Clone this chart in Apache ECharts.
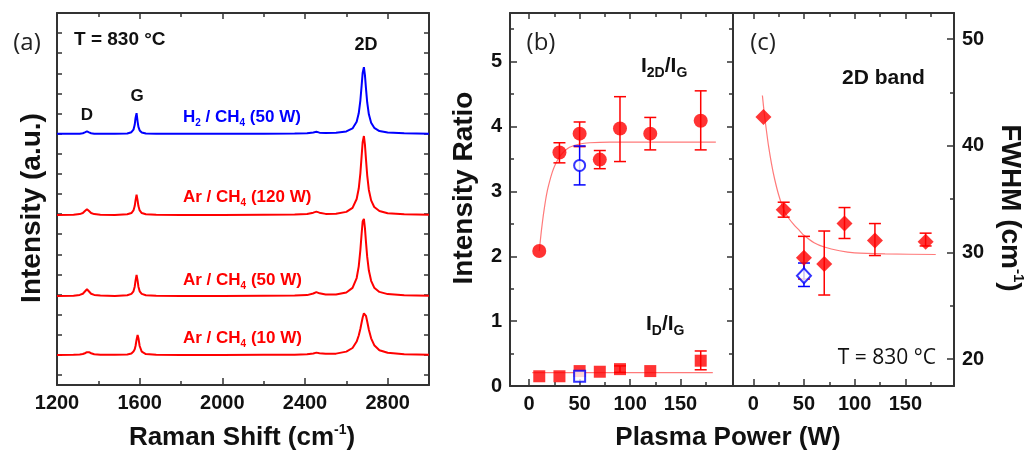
<!DOCTYPE html>
<html>
<head>
<meta charset="utf-8">
<script src="https://cdn.jsdelivr.net/npm/echarts@6/dist/echarts.min.js"></script>
<style>
html, body { margin: 0; padding: 0; background: #fff; }
#chart { width: 1031px; height: 456px; }
</style>
</head>
<body>
<div id="chart"></div>
<script>
// (a) Raman spectra, intensity in arbitrary (offset) units
const ramanShift = [1200, 1280, 1310, 1325, 1335, 1345, 1355, 1365, 1380, 1410, 1480, 1540, 1560, 1570, 1576, 1580, 1585, 1590, 1594, 1600, 1610, 1630, 1680, 1800, 2000, 2200, 2350, 2410, 2440, 2455, 2470, 2500, 2550, 2600, 2630, 2650, 2660, 2668, 2674, 2679, 2685, 2690, 2695, 2701, 2709, 2720, 2735, 2760, 2800, 2880, 3000];
const specH2_50 = [12.49, 12.50, 12.50, 12.52, 12.56, 12.61, 12.56, 12.52, 12.50, 12.49, 12.49, 12.51, 12.57, 12.70, 12.94, 13.28, 13.52, 13.10, 12.84, 12.66, 12.56, 12.51, 12.49, 12.49, 12.49, 12.50, 12.51, 12.52, 12.56, 12.59, 12.55, 12.53, 12.54, 12.61, 12.76, 13.09, 13.51, 14.16, 14.89, 15.52, 15.81, 15.41, 14.75, 14.05, 13.46, 13.04, 12.79, 12.63, 12.56, 12.52, 12.50];
const specAr_120 = [8.46, 8.47, 8.50, 8.55, 8.65, 8.74, 8.65, 8.55, 8.50, 8.47, 8.46, 8.49, 8.55, 8.68, 8.90, 9.18, 9.46, 9.18, 8.90, 8.68, 8.55, 8.49, 8.47, 8.46, 8.46, 8.47, 8.48, 8.50, 8.57, 8.62, 8.57, 8.51, 8.52, 8.61, 8.81, 9.25, 9.77, 10.54, 11.38, 12.08, 12.38, 11.95, 11.23, 10.43, 9.70, 9.18, 8.85, 8.65, 8.54, 8.49, 8.47];
const specAr_50 = [4.43, 4.44, 4.48, 4.54, 4.65, 4.76, 4.65, 4.54, 4.48, 4.45, 4.43, 4.46, 4.53, 4.66, 4.89, 5.19, 5.48, 5.19, 4.89, 4.66, 4.53, 4.46, 4.44, 4.43, 4.43, 4.44, 4.45, 4.47, 4.55, 4.62, 4.56, 4.50, 4.50, 4.60, 4.83, 5.32, 5.90, 6.72, 7.53, 8.13, 8.26, 7.80, 7.12, 6.37, 5.69, 5.18, 4.84, 4.63, 4.52, 4.46, 4.44];
const specAr_10 = [1.49, 1.50, 1.52, 1.54, 1.58, 1.63, 1.63, 1.58, 1.53, 1.50, 1.50, 1.52, 1.57, 1.66, 1.78, 1.94, 2.25, 2.49, 2.33, 1.94, 1.66, 1.54, 1.50, 1.49, 1.49, 1.50, 1.51, 1.53, 1.57, 1.61, 1.58, 1.55, 1.56, 1.66, 1.84, 2.16, 2.46, 2.80, 3.11, 3.36, 3.56, 3.57, 3.44, 3.16, 2.75, 2.32, 1.98, 1.73, 1.60, 1.53, 1.50];

// (b) intensity ratios vs plasma power (Ar/CH4)
const power = [10, 30, 50, 70, 90, 120, 170];
const ratio2DG = [2.08, 3.60, 3.89, 3.49, 3.97, 3.89, 4.09];
const ratio2DGLow = [null, 3.44, 3.69, 3.35, 3.46, 3.64, 3.64];
const ratio2DGHigh = [null, 3.75, 4.07, 3.63, 4.46, 4.14, 4.55];
const ratioDG = [0.15, 0.15, 0.23, 0.22, 0.26, 0.23, 0.39];
const ratioDGLow = [null, null, null, null, 0.21, null, 0.25];
const ratioDGHigh = [null, null, null, null, 0.31, null, 0.54];
// H2/CH4 sample (open symbols)
const h2Power = [50];
const h2Ratio2DG = [3.40];
const h2Ratio2DGLow = [3.10];
const h2Ratio2DGHigh = [3.70];
const h2RatioDG = [0.15];
// fitted curves
const fit2DG = [[10, 2.08], [12, 2.38], [14, 2.63], [16, 2.84], [18, 3.01], [20, 3.14], [23, 3.30], [26, 3.42], [30, 3.53], [35, 3.62], [40, 3.68], [50, 3.73], [60, 3.75], [80, 3.76], [185, 3.76]];
const fitDG = [[3, 0.205], [182, 0.205]];

// (c) 2D band FWHM
const fwhm = [42.7, 34.0, 29.5, 28.9, 32.7, 31.1, 31.0];
const fwhmLow = [null, 33.3, 27.5, 26.0, 31.3, 29.7, 30.6];
const fwhmHigh = [null, 34.7, 31.5, 32.0, 34.2, 32.7, 31.8];
const h2Fwhm = [27.8];
const h2FwhmLow = [26.8];
const h2FwhmHigh = [29.0];
const fitFwhm = [[9, 44.7], [11, 42.9], [13, 41.4], [15, 40.0], [18, 38.3], [21, 36.9], [25, 35.4], [30, 34.0], [35, 33.2], [40, 32.6], [45, 32.1], [50, 31.6], [60, 30.9], [70, 30.5], [85, 30.15], [100, 29.95], [130, 29.85], [180, 29.8]];

// tick values
const ramanMajor = [1200, 1600, 2000, 2400, 2800];
const ramanMinor = [1400, 1800, 2200, 2600];
const intensityTicks = [0.5, 1.5, 2.5, 3.5, 4.5, 5.5, 6.5, 7.5, 8.5, 9.5, 10.5, 11.5, 12.5, 13.5, 14.5, 15.5, 16.5, 17.5];
const powerMajor = [0, 50, 100, 150];
const powerMinor = [25, 75, 125, 175];
const ratioMajor = [0, 1, 2, 3, 4, 5];
const ratioMinor = [0.5, 1.5, 2.5, 3.5, 4.5, 5.5];
const fwhmMajor = [20, 30, 40, 50];
const fwhmMinor = [25, 35, 45];

const FONT = '"Liberation Sans", Arial, sans-serif';
const THIN = '"Open Sans", "Noto Sans", sans-serif';
const AX = '#333';
const RED = '#ff0000';
const BLUE = '#0000ff';
const FIT = '#ff7a7a';

function axis(grid, pos, min, max, ticks, len, line, labels) {
    return {
        type: 'value', gridIndex: grid, position: pos, min: min, max: max,
        splitLine: {show: false},
        axisLine: {show: line, onZero: false, lineStyle: {color: AX, width: 2}},
        axisTick: {show: ticks.length > 0, inside: true, length: len, customValues: ticks, lineStyle: {color: AX, width: 1.5}},
        axisLabel: labels ? {
            show: true, customValues: labels, margin: 8, color: '#111',
            fontFamily: FONT, fontWeight: 'bold', fontSize: 20,
            formatter: function (v) { return String(v); }
        } : {show: false}
    };
}

function pairs(xs, ys) {
    return xs.map((x, i) => [x, ys[i]]);
}

function errData(xs, lo, hi) {
    const out = [];
    xs.forEach((x, i) => {
        if (lo[i] != null) out.push([x, lo[i], hi[i]]);
    });
    return out;
}

function errorBars(xi, yi, data, color) {
    return {
        type: 'custom', xAxisIndex: xi, yAxisIndex: yi, z: 3,
        data: data,
        renderItem: function (params, api) {
            const top = api.coord([api.value(0), api.value(2)]);
            const bot = api.coord([api.value(0), api.value(1)]);
            const w = 6;
            const style = {stroke: color, lineWidth: 1.5};
            return {type: 'group', children: [
                {type: 'line', shape: {x1: top[0], y1: top[1], x2: bot[0], y2: bot[1]}, style: style},
                {type: 'line', shape: {x1: top[0] - w, y1: top[1], x2: top[0] + w, y2: top[1]}, style: style},
                {type: 'line', shape: {x1: bot[0] - w, y1: bot[1], x2: bot[0] + w, y2: bot[1]}, style: style}
            ]};
        }
    };
}

function spectrum(vals, color) {
    return {
        type: 'line', xAxisIndex: 0, yAxisIndex: 0,
        data: pairs(ramanShift, vals), showSymbol: false,
        lineStyle: {color: color, width: 2}, itemStyle: {color: color}
    };
}

function fitLine(xi, yi, data) {
    return {
        type: 'line', xAxisIndex: xi, yAxisIndex: yi, data: data, z: 1,
        showSymbol: false, smooth: 0.2,
        lineStyle: {color: FIT, width: 1.2}
    };
}

function dots(xi, yi, data, symbol, size, filled, color) {
    return {
        type: 'scatter', xAxisIndex: xi, yAxisIndex: yi, data: data, z: 4,
        symbol: symbol, symbolSize: size,
        itemStyle: filled ? {color: color} : {color: '#fff', borderColor: color, borderWidth: 2}
    };
}

// rich text styles for graphic labels
function tok(size, color, weight, family, extra) {
    return Object.assign({fontSize: size, fill: color, fontWeight: weight || 'bold', fontFamily: family || FONT}, extra || {});
}

function text(x, y, str, rich, opts) {
    opts = opts || {};
    return {
        type: 'text', x: x, y: y, rotation: opts.rotation || 0, z: 10,
        style: {
            text: str, rich: rich,
            align: opts.align || 'center', textAlign: opts.align || 'center',
            verticalAlign: 'middle', textVerticalAlign: 'middle'
        }
    };
}

function subRich(size, subSize, color, drop) {
    return {
        m: tok(size, color, 'bold', FONT, {lineHeight: size + 2}),
        s: tok(subSize, color, 'bold', FONT, {lineHeight: subSize, padding: [drop, 0, 0, 0]})
    };
}

function supRich(size, supSize, color) {
    return {
        m: tok(size, color, 'bold', FONT, {lineHeight: size + 4}),
        u: tok(supSize, color, 'bold', FONT, {lineHeight: supSize, padding: [0, 0, size - 10, 0], verticalAlign: 'top'})
    };
}

const chartDom = document.getElementById('chart');
const myChart = echarts.init(chartDom);

const option = {
    animation: false,
    backgroundColor: '#fff',
    grid: [
        {left: 57, top: 13, width: 372, height: 372},
        {left: 510, top: 13, width: 223, height: 373},
        {left: 733, top: 13, width: 221, height: 373}
    ],
    xAxis: [
        axis(0, 'bottom', 1200, 3000, ramanMajor, 7, true, ramanMajor),
        axis(0, 'top', 1200, 3000, ramanMajor, 6, true, null),
        axis(0, 'bottom', 1200, 3000, ramanMinor, 4, false, null),
        axis(0, 'top', 1200, 3000, ramanMinor, 4, false, null),
        axis(1, 'bottom', -19, 202, powerMajor, 7, true, powerMajor),
        axis(1, 'top', -19, 202, powerMajor, 6, true, null),
        axis(1, 'bottom', -19, 202, powerMinor, 4, false, null),
        axis(1, 'top', -19, 202, powerMinor, 4, false, null),
        axis(2, 'bottom', -20, 198, powerMajor, 7, true, powerMajor),
        axis(2, 'top', -20, 198, powerMajor, 6, true, null),
        axis(2, 'bottom', -20, 198, powerMinor, 4, false, null),
        axis(2, 'top', -20, 198, powerMinor, 4, false, null)
    ],
    yAxis: [
        axis(0, 'left', 0, 18.5, intensityTicks, 5, true, null),
        axis(0, 'right', 0, 18.5, intensityTicks, 5, true, null),
        axis(1, 'left', 0, 5.75, ratioMajor, 7, true, ratioMajor),
        axis(1, 'right', 0, 5.75, ratioMajor, 6, true, null),
        axis(1, 'left', 0, 5.75, ratioMinor, 4, false, null),
        axis(1, 'right', 0, 5.75, ratioMinor, 4, false, null),
        axis(2, 'right', 17.47, 52.44, fwhmMajor, 7, true, fwhmMajor),
        axis(2, 'left', 17.47, 52.44, [], 0, true, null),
        axis(2, 'right', 17.47, 52.44, fwhmMinor, 4, false, null)
    ],
    series: [
        spectrum(specH2_50, BLUE),
        spectrum(specAr_120, RED),
        spectrum(specAr_50, RED),
        spectrum(specAr_10, RED),

        fitLine(4, 2, fit2DG),
        fitLine(4, 2, fitDG),
        errorBars(4, 2, errData(power, ratio2DGLow, ratio2DGHigh), RED),
        dots(4, 2, pairs(power, ratio2DG), 'circle', 14, true, RED),
        errorBars(4, 2, errData(h2Power, h2Ratio2DGLow, h2Ratio2DGHigh), BLUE),
        dots(4, 2, pairs(h2Power, h2Ratio2DG), 'circle', 11, false, BLUE),
        errorBars(4, 2, errData(power, ratioDGLow, ratioDGHigh), RED),
        dots(4, 2, pairs(power, ratioDG), 'rect', 12, true, RED),
        dots(4, 2, pairs(h2Power, h2RatioDG), 'rect', 11, false, BLUE),

        fitLine(8, 6, fitFwhm),
        errorBars(8, 6, errData(power, fwhmLow, fwhmHigh), RED),
        dots(8, 6, pairs(power, fwhm), 'diamond', [16, 16], true, RED),
        errorBars(8, 6, errData(h2Power, h2FwhmLow, h2FwhmHigh), BLUE),
        dots(8, 6, pairs(h2Power, h2Fwhm), 'diamond', [14, 15], false, BLUE)
    ],
    graphic: [
        // panel letters
        text(27, 43, '{t|(a)}', {t: tok(24, '#222', 'normal', THIN)}),
        text(541, 43, '{t|(b)}', {t: tok(24, '#222', 'normal', THIN)}),
        text(763, 43, '{t|(c)}', {t: tok(24, '#222', 'normal', THIN)}),
        // panel (a) annotations
        text(74, 40, '{t|T = 830 °C}', {t: tok(19, '#111')}, {align: 'left'}),
        text(87, 115, '{t|D}', {t: tok(17, '#111')}),
        text(137, 96, '{t|G}', {t: tok(17, '#111')}),
        text(366, 45, '{t|2D}', {t: tok(18, '#111')}),
        text(183, 117, '{m|H}{s|2}{m| / CH}{s|4}{m| (50 W)}', subRich(17, 10, BLUE, 12), {align: 'left'}),
        text(183, 197, '{m|Ar / CH}{s|4}{m| (120 W)}', subRich(17, 10, RED, 12), {align: 'left'}),
        text(183, 280, '{m|Ar / CH}{s|4}{m| (50 W)}', subRich(17, 10, RED, 12), {align: 'left'}),
        text(183, 338, '{m|Ar / CH}{s|4}{m| (10 W)}', subRich(17, 10, RED, 12), {align: 'left'}),
        // panel (b) annotations
        text(641, 66, '{m|I}{s|2D}{m|/I}{s|G}', subRich(21, 14, '#111', 15), {align: 'left'}),
        text(646, 324, '{m|I}{s|D}{m|/I}{s|G}', subRich(21, 14, '#111', 15), {align: 'left'}),
        // panel (c) annotations
        text(842, 78, '{t|2D band}', {t: tok(21, '#111')}, {align: 'left'}),
        text(936, 358, '{t|T = 830 °C}', {t: tok(21, '#111', 'normal', THIN)}, {align: 'right'}),
        // axis titles
        text(242, 438, '{m|Raman Shift (cm}{u|-1}{m|)}', supRich(26, 14, '#111')),
        text(728, 438, '{m|Plasma Power (W)}', supRich(26, 14, '#111')),
        text(32, 208, '{m|Intensity (a.u.)}', supRich(28, 14, '#111'), {rotation: Math.PI / 2}),
        text(464, 188, '{m|Intensity Ratio}', supRich(28, 14, '#111'), {rotation: Math.PI / 2}),
        text(1010, 208, '{m|FWHM (cm}{u|-1}{m|)}', supRich(28, 15, '#111'), {rotation: -Math.PI / 2})
    ]
};

myChart.setOption(option);
</script>
</body>
</html>
